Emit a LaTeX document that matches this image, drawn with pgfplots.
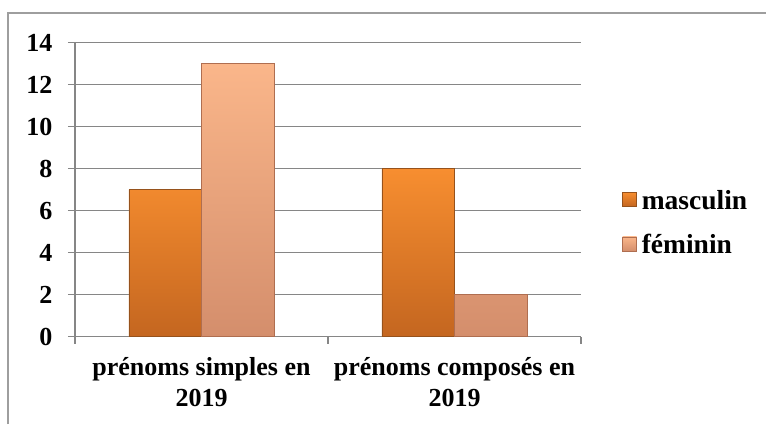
\documentclass[border=0pt]{standalone}
\usepackage{fontspec}
\setmainfont{Liberation Serif}[BoldFont={Liberation Serif Bold}]
\usepackage{pgfplots}
\pgfplotsset{compat=1.18}
\definecolor{mTop}{RGB}{247,142,48}
\definecolor{mBot}{RGB}{196,102,32}
\definecolor{mEdge}{RGB}{150,82,28}
\definecolor{fTop}{RGB}{250,182,138}
\definecolor{fBot}{RGB}{212,142,108}
\definecolor{fEdge}{RGB}{175,110,80}
\definecolor{gridc}{RGB}{134,134,134}
\newcommand{\lf}{\fontsize{26}{31}\selectfont\bfseries\rmfamily}
\newcommand{\lgf}{\fontsize{27.5}{31}\selectfont\bfseries\rmfamily}
\begin{document}
\begin{tikzpicture}
\useasboundingbox (0,0) rectangle (766pt,424pt);
\draw[color=gridc!80, line width=1.2pt] (8pt,0) -- (8pt,411pt) -- (766pt,411pt);
\begin{axis}[
  at={(75pt,87.3pt)}, anchor=south west,
  width=506pt, height=294pt, scale only axis,
  xmin=-0.5, xmax=1.5, ymin=0, ymax=14,
  ytick={0,2,...,14},
  xtick={-0.5,0.5,1.5}, xticklabels={},
  extra x ticks={0,1},
  extra x tick labels={{prénoms simples en\\2019},{prénoms composés en\\2019}},
  extra x tick style={major tick length=0pt, grid=none},
  axis x line*=bottom, axis y line*=left,
  axis line style={draw=gridc, line width=1.2pt, -},
  tick style={draw=gridc, line width=1.2pt},
  tick align=outside, major tick length=7pt,
  ymajorgrids, grid style={draw=gridc, line width=1.2pt},
  /pgf/number format/assume math mode=true,
  tick label style={font=\lf},
  xticklabel style={align=center, yshift=-17pt},
  yticklabel style={xshift=-12pt},
  legend style={at={(1,0.5)}, anchor=west, xshift=41pt, yshift=-33pt, draw=none, fill=none,
    font=\lgf, row sep=20pt, inner sep=0pt},
  legend cell align=left,
  legend image code/.code={\draw[#1] (0pt,-6pt) rectangle (14pt,8pt);},
]
\addplot[ybar, bar width=0.2866, bar shift=-0.1433, shade, top color=mTop, bottom color=mBot, draw=mEdge, line width=0.6pt]
  coordinates {(0,7) (1,8)};
\addplot[ybar, bar width=0.2866, bar shift=0.1433, shade, top color=fTop, bottom color=fBot, draw=fEdge, line width=0.6pt]
  coordinates {(0,13) (1,2)};
\legend{\hspace{3pt}masculin, \hspace{3pt}féminin}
\end{axis}
\end{tikzpicture}
\end{document}
